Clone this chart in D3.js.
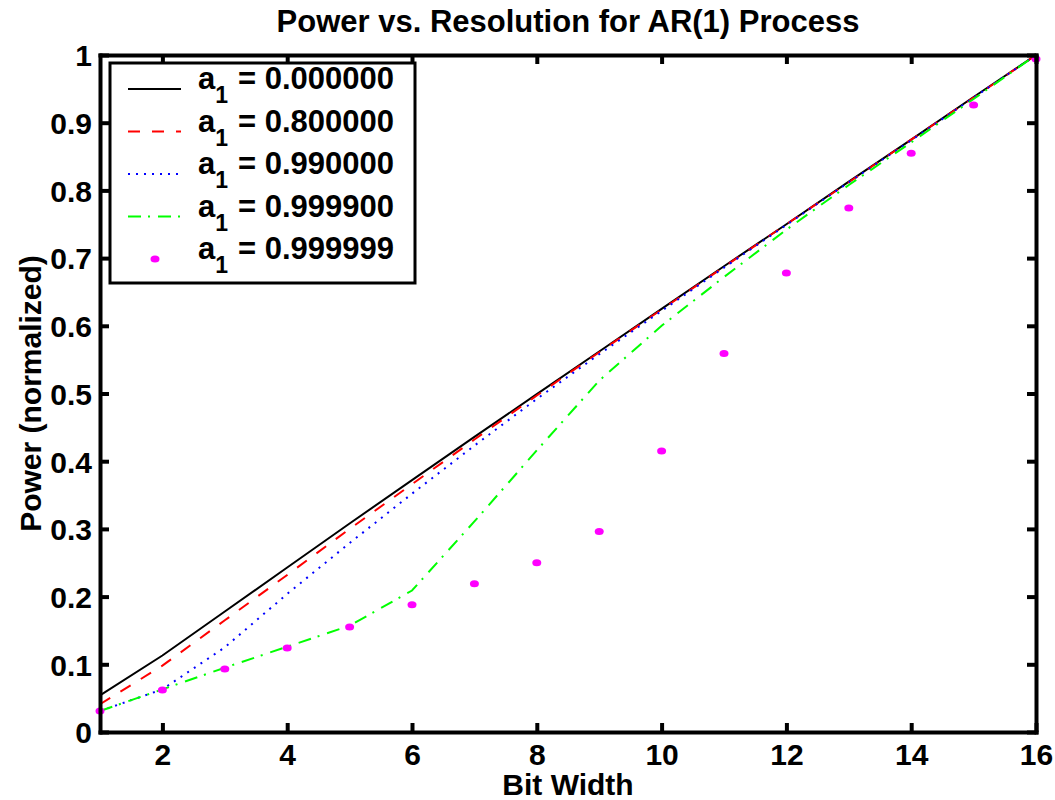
<!DOCTYPE html>
<html>
<head>
<meta charset="utf-8">
<script src="https://cdn.jsdelivr.net/npm/d3@7"></script>
<style>
  body { margin: 0; background: #fff; }
  text { font-family: "Liberation Sans", Arial, Helvetica, sans-serif; font-weight: bold; fill: #000; }
</style>
</head>
<body>
<div id="chart"></div>
<script>
// bit widths on the x axis
var bits = [1, 2, 3, 4, 5, 6, 7, 8, 9, 10, 11, 12, 13, 14, 15, 16];

// normalized power, one array per AR(1) coefficient
var powerA0      = [0.054, 0.113, 0.178, 0.243, 0.308, 0.372, 0.436, 0.499, 0.562, 0.625, 0.688, 0.750, 0.813, 0.875, 0.938, 1.000];
var powerA08     = [0.041, 0.098, 0.165, 0.232, 0.300, 0.366, 0.432, 0.497, 0.561, 0.624, 0.687, 0.750, 0.812, 0.875, 0.937, 1.000];
var powerA099    = [0.031, 0.063, 0.125, 0.204, 0.279, 0.352, 0.423, 0.492, 0.558, 0.622, 0.686, 0.749, 0.812, 0.874, 0.937, 1.000];
var powerA09999  = [0.031, 0.063, 0.095, 0.126, 0.157, 0.209, 0.311, 0.416, 0.519, 0.600, 0.672, 0.742, 0.808, 0.871, 0.935, 1.000];
var powerA099999 = [0.031, 0.062, 0.093, 0.124, 0.155, 0.188, 0.219, 0.250, 0.296, 0.415, 0.559, 0.678, 0.774, 0.855, 0.926, 0.994];

var coefLabels = ["0.000000", "0.800000", "0.990000", "0.999900", "0.999999"];
var xTicks = [2, 4, 6, 8, 10, 12, 14, 16];
var yTicks = [0, 0.1, 0.2, 0.3, 0.4, 0.5, 0.6, 0.7, 0.8, 0.9, 1];

var width = 1055, height = 800;
var margin = {top: 55, right: 19, bottom: 68, left: 100};

var svg = d3.select("#chart").append("svg")
    .attr("width", width)
    .attr("height", height);

var x = d3.scaleLinear().domain([1, 16]).range([margin.left, width - margin.right]);
var y = d3.scaleLinear().domain([0, 1]).range([height - margin.bottom, margin.top]);

var fmtY = function(d) { return d === 0 || d === 1 ? String(d) : d3.format(".1f")(d); };

// series definitions (style only)
var series = [
    {values: powerA0,      color: "#000000", dash: null,        width: 2},
    {values: powerA08,     color: "#ff0000", dash: "12,12",     width: 2},
    {values: powerA099,    color: "#0000ff", dash: "2,6",       width: 2},
    {values: powerA09999,  color: "#00ff00", dash: "13,7,2,8",  width: 2}
];

var line = d3.line()
    .x(function(d, i) { return x(bits[i]); })
    .y(function(d) { return y(d); });

var lines = svg.append("g");
series.forEach(function(s) {
    lines.append("path")
        .attr("d", line(s.values))
        .attr("fill", "none")
        .attr("stroke", s.color)
        .attr("stroke-width", s.width)
        .attr("stroke-dasharray", s.dash);
});

svg.append("g").selectAll("ellipse")
    .data(powerA099999)
    .enter().append("ellipse")
    .attr("cx", function(d, i) { return x(bits[i]); })
    .attr("cy", function(d) { return y(d); })
    .attr("rx", 4.5)
    .attr("ry", 3.5)
    .attr("fill", "#ff00ff");

// axes, ticks pointing inward on all four sides
var axisW = 4, tickLen = 9;

var gBottom = svg.append("g")
    .attr("transform", "translate(0," + y(0) + ")")
    .call(d3.axisBottom(x).tickValues(xTicks).tickSizeInner(-tickLen).tickSizeOuter(0).tickPadding(12));
var gTop = svg.append("g")
    .attr("transform", "translate(0," + y(1) + ")")
    .call(d3.axisTop(x).tickValues(xTicks).tickSizeInner(-tickLen).tickSizeOuter(0).tickFormat(""));
var gLeft = svg.append("g")
    .attr("transform", "translate(" + x(1) + ",0)")
    .call(d3.axisLeft(y).tickValues(yTicks).tickSizeInner(-tickLen).tickSizeOuter(0).tickPadding(8).tickFormat(fmtY));
var gRight = svg.append("g")
    .attr("transform", "translate(" + x(16) + ",0)")
    .call(d3.axisRight(y).tickValues(yTicks).tickSizeInner(-tickLen).tickSizeOuter(0).tickFormat(""));

[gBottom, gTop, gLeft, gRight].forEach(function(g) {
    g.select(".domain").attr("stroke", "#000").attr("stroke-width", axisW).attr("stroke-linecap", "square");
    g.selectAll(".tick line").attr("stroke", "#000").attr("stroke-width", axisW);
    g.selectAll(".tick text")
        .attr("font-size", 30)
        .attr("fill", "#000");
    g.attr("font-family", null).attr("font-size", null);
});
gBottom.selectAll(".tick text").attr("dy", "0.71em");
gLeft.selectAll(".tick text").attr("dy", "0.36em");

// titles
svg.append("text")
    .attr("x", (x(1) + x(16)) / 2)
    .attr("y", 32)
    .attr("text-anchor", "middle")
    .attr("font-size", 31)
    .text("Power vs. Resolution for AR(1) Process");

svg.append("text")
    .attr("x", (x(1) + x(16)) / 2)
    .attr("y", 795)
    .attr("text-anchor", "middle")
    .attr("font-size", 30)
    .text("Bit Width");

svg.append("text")
    .attr("transform", "translate(41," + (y(0) + y(1)) / 2 + ") rotate(-90)")
    .attr("text-anchor", "middle")
    .attr("font-size", 30)
    .text("Power (normalized)");

// legend
var legend = svg.append("g");
legend.append("rect")
    .attr("x", 110).attr("y", 63)
    .attr("width", 305).attr("height", 220)
    .attr("fill", "#fff")
    .attr("stroke", "#000")
    .attr("stroke-width", 3);

var rowY = function(i) { return 89 + i * 42.5; };

series.forEach(function(s, i) {
    legend.append("line")
        .attr("x1", 128).attr("x2", 181)
        .attr("y1", rowY(i)).attr("y2", rowY(i))
        .attr("stroke", s.color)
        .attr("stroke-width", s.width)
        .attr("stroke-dasharray", s.dash);
});
legend.append("ellipse")
    .attr("cx", 155).attr("cy", rowY(4))
    .attr("rx", 4.5).attr("ry", 3.5)
    .attr("fill", "#ff00ff");

coefLabels.forEach(function(lbl, i) {
    var t = legend.append("text")
        .attr("x", 198)
        .attr("y", rowY(i))
        .attr("font-size", 31);
    t.append("tspan").text("a");
    t.append("tspan").attr("dy", 14).attr("font-size", 23).text("1");
    t.append("tspan").attr("dy", -14).attr("dx", 10).text("= " + lbl);
});
</script>
</body>
</html>
